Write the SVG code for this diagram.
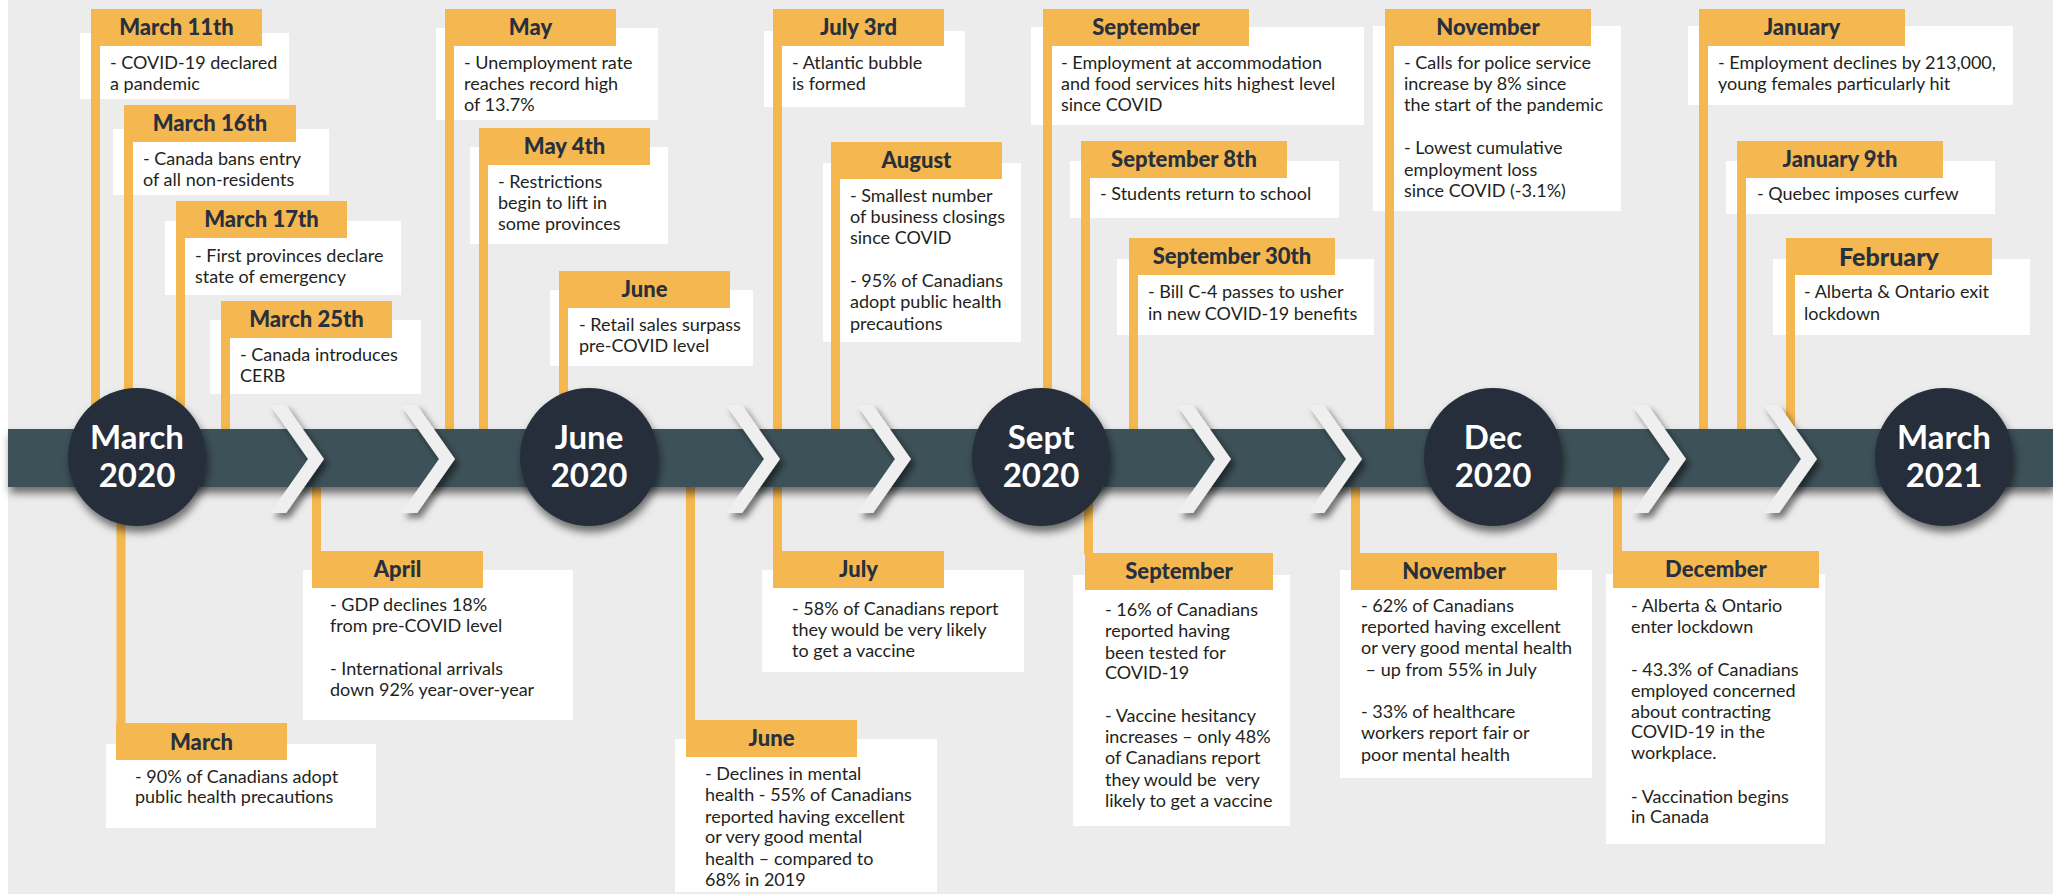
<svg xmlns="http://www.w3.org/2000/svg" width="2053" height="894" viewBox="0 0 2053 894">
<defs>
<filter id="sh" x="-20%" y="-20%" width="150%" height="160%">
<feDropShadow dx="2" dy="6" stdDeviation="4" flood-color="#000" flood-opacity="0.55"/>
</filter>
<filter id="shc" x="-30%" y="-20%" width="180%" height="150%">
<feDropShadow dx="4" dy="5" stdDeviation="3" flood-color="#000" flood-opacity="0.5"/>
</filter>
<style>
.wb{fill:#ffffff}
.hd{fill:#f5b74f}
.ttl{font-family:Lato,"Liberation Sans",sans-serif;font-weight:900;font-size:22px;fill:#27303c;text-anchor:middle}
.bd{font-family:Lato,"Liberation Sans",sans-serif;font-size:18px;fill:#231f20}
.cir{fill:#262f3b;filter:url(#sh)}
.ct{font-family:Lato,"Liberation Sans",sans-serif;font-weight:bold;font-size:33px;fill:#ffffff;text-anchor:middle}
.chev{fill:#efefef;filter:url(#shc)}
.con{stroke:#f5b74f;stroke-width:9;fill:none}
</style>
</defs>
<rect x="0" y="0" width="2053" height="894" fill="#ffffff"/>
<rect x="8" y="0" width="2045" height="894" fill="#ececec"/>

<!-- top nodes -->
<g id="n-mar11">
<rect class="wb" x="80" y="33" width="209" height="66"/>
<rect class="hd" x="91" y="9" width="171" height="37"/>
<text class="ttl" x="176.5" y="35">March 11th</text>
<text class="bd"><tspan x="110" y="69">- COVID-19 declared</tspan><tspan x="110" y="90">a pandemic</tspan></text>
</g>
<g id="n-mar16">
<rect class="wb" x="113" y="129" width="216" height="66"/>
<rect class="hd" x="124" y="105" width="172" height="37"/>
<text class="ttl" x="210" y="131">March 16th</text>
<text class="bd"><tspan x="143" y="165">- Canada bans entry</tspan><tspan x="143" y="186">of all non-residents</tspan></text>
</g>
<g id="n-mar17">
<rect class="wb" x="165" y="221" width="236" height="74"/>
<rect class="hd" x="176" y="201" width="171" height="37"/>
<text class="ttl" x="261.5" y="227">March 17th</text>
<text class="bd"><tspan x="195" y="262">- First provinces declare</tspan><tspan x="195" y="283">state of emergency</tspan></text>
</g>
<g id="n-mar25">
<rect class="wb" x="210" y="320" width="211" height="74"/>
<rect class="hd" x="221" y="301" width="171" height="37"/>
<text class="ttl" x="306.5" y="327">March 25th</text>
<text class="bd"><tspan x="240" y="361">- Canada introduces</tspan><tspan x="240" y="382">CERB</tspan></text>
</g>
<g id="n-may">
<rect class="wb" x="436" y="28" width="222" height="92"/>
<rect class="hd" x="445" y="9" width="171" height="37"/>
<text class="ttl" x="530.5" y="35">May</text>
<text class="bd"><tspan x="464" y="69">- Unemployment rate</tspan><tspan x="464" y="90">reaches record high</tspan><tspan x="464" y="111">of 13.7%</tspan></text>
</g>
<g id="n-may4">
<rect class="wb" x="470" y="147" width="198" height="97"/>
<rect class="hd" x="479" y="128" width="171" height="37"/>
<text class="ttl" x="564.5" y="154">May 4th</text>
<text class="bd"><tspan x="498" y="188">- Restrictions</tspan><tspan x="498" y="209">begin to lift in</tspan><tspan x="498" y="230">some provinces</tspan></text>
</g>
<g id="n-jun-top">
<rect class="wb" x="550" y="290" width="203" height="76"/>
<rect class="hd" x="559" y="271" width="171" height="37"/>
<text class="ttl" x="644.5" y="297">June</text>
<text class="bd"><tspan x="579" y="331">- Retail sales surpass</tspan><tspan x="579" y="352">pre-COVID level</tspan></text>
</g>
<g id="n-jul3">
<rect class="wb" x="764" y="31" width="201" height="76"/>
<rect class="hd" x="773" y="9" width="171" height="37"/>
<text class="ttl" x="858.5" y="35">July 3rd</text>
<text class="bd"><tspan x="792" y="69">- Atlantic bubble</tspan><tspan x="792" y="90">is formed</tspan></text>
</g>
<g id="n-aug">
<rect class="wb" x="823" y="163" width="198" height="179"/>
<rect class="hd" x="831" y="142" width="171" height="37"/>
<text class="ttl" x="916.5" y="168">August</text>
<text class="bd"><tspan x="850" y="202">- Smallest number</tspan><tspan x="850" y="223">of business closings</tspan><tspan x="850" y="244">since COVID</tspan><tspan x="850" y="287">- 95% of Canadians</tspan><tspan x="850" y="308">adopt public health</tspan><tspan x="850" y="330">precautions</tspan></text>
</g>
<g id="n-sep-top">
<rect class="wb" x="1031" y="27" width="333" height="98"/>
<rect class="hd" x="1043" y="9" width="206" height="37"/>
<text class="ttl" x="1146" y="35">September</text>
<text class="bd"><tspan x="1061" y="69">- Employment at accommodation</tspan><tspan x="1061" y="90">and food services hits highest level</tspan><tspan x="1061" y="111">since COVID</tspan></text>
</g>
<g id="n-sep8">
<rect class="wb" x="1070" y="161" width="269" height="57"/>
<rect class="hd" x="1081" y="141" width="206" height="37"/>
<text class="ttl" x="1184" y="167">September 8th</text>
<text class="bd"><tspan x="1100" y="200">- Students return to school</tspan></text>
</g>
<g id="n-sep30">
<rect class="wb" x="1117" y="259" width="257" height="76"/>
<rect class="hd" x="1129" y="238" width="206" height="37"/>
<text class="ttl" x="1232" y="264">September 30th</text>
<text class="bd"><tspan x="1148" y="298">- Bill C-4 passes to usher</tspan><tspan x="1148" y="320">in new COVID-19 benefits</tspan></text>
</g>
<g id="n-nov-top">
<rect class="wb" x="1373" y="26" width="248" height="185"/>
<rect class="hd" x="1385" y="9" width="206" height="37"/>
<text class="ttl" x="1488" y="35">November</text>
<text class="bd"><tspan x="1404" y="69">- Calls for police service</tspan><tspan x="1404" y="90">increase by 8% since</tspan><tspan x="1404" y="111">the start of the pandemic</tspan><tspan x="1404" y="154">- Lowest cumulative</tspan><tspan x="1404" y="176">employment loss</tspan><tspan x="1404" y="197">since COVID (-3.1%)</tspan></text>
</g>
<g id="n-jan">
<rect class="wb" x="1688" y="26" width="325" height="79"/>
<rect class="hd" x="1699" y="9" width="206" height="37"/>
<text class="ttl" x="1802" y="35">January</text>
<text class="bd"><tspan x="1718" y="69">- Employment declines by 213,000,</tspan><tspan x="1718" y="90">young females particularly hit</tspan></text>
</g>
<g id="n-jan9">
<rect class="wb" x="1726" y="161" width="269" height="53"/>
<rect class="hd" x="1737" y="141" width="206" height="37"/>
<text class="ttl" x="1840" y="167">January 9th</text>
<text class="bd"><tspan x="1757" y="200">- Quebec imposes curfew</tspan></text>
</g>
<g id="n-feb">
<rect class="wb" x="1773" y="259" width="257" height="76"/>
<rect class="hd" x="1786" y="238" width="206" height="37"/>
<text class="ttl" x="1889" y="266" style="font-size:25px">February</text>
<text class="bd"><tspan x="1804" y="298">- Alberta &amp; Ontario exit</tspan><tspan x="1804" y="320">lockdown</tspan></text>
</g>

<!-- bottom nodes -->
<g id="n-mar-bot">
<rect class="wb" x="106" y="744" width="270" height="84"/>
<rect class="hd" x="116" y="723" width="171" height="37"/>
<text class="ttl" x="201.5" y="750">March</text>
<text class="bd"><tspan x="135" y="783">- 90% of Canadians adopt</tspan><tspan x="135" y="803">public health precautions</tspan></text>
</g>
<g id="n-apr">
<rect class="wb" x="303" y="570" width="270" height="150"/>
<rect class="hd" x="312" y="551" width="171" height="37"/>
<text class="ttl" x="397.5" y="577">April</text>
<text class="bd"><tspan x="330" y="611">- GDP declines 18%</tspan><tspan x="330" y="632">from pre-COVID level</tspan><tspan x="330" y="675">- International arrivals</tspan><tspan x="330" y="696">down 92% year-over-year</tspan></text>
</g>
<g id="n-jun-bot">
<rect class="wb" x="675" y="739" width="262" height="153"/>
<rect class="hd" x="686" y="720" width="171" height="37"/>
<text class="ttl" x="771.5" y="746">June</text>
<text class="bd"><tspan x="705" y="780">- Declines in mental</tspan><tspan x="705" y="801">health - 55% of Canadians</tspan><tspan x="705" y="823">reported having excellent</tspan><tspan x="705" y="843">or very good mental</tspan><tspan x="705" y="865">health – compared to</tspan><tspan x="705" y="886">68% in 2019</tspan></text>
</g>
<g id="n-jul-bot">
<rect class="wb" x="762" y="570" width="262" height="102"/>
<rect class="hd" x="773" y="551" width="171" height="37"/>
<text class="ttl" x="858.5" y="577">July</text>
<text class="bd"><tspan x="792" y="615">- 58% of Canadians report</tspan><tspan x="792" y="636">they would be very likely</tspan><tspan x="792" y="657">to get a vaccine</tspan></text>
</g>
<g id="n-sep-bot">
<rect class="wb" x="1073" y="575" width="217" height="251"/>
<rect class="hd" x="1085" y="553" width="188" height="37"/>
<text class="ttl" x="1179" y="579">September</text>
<text class="bd" xml:space="preserve"><tspan x="1105" y="616">- 16% of Canadians</tspan><tspan x="1105" y="637">reported having</tspan><tspan x="1105" y="659">been tested for</tspan><tspan x="1105" y="679">COVID-19</tspan><tspan x="1105" y="722">- Vaccine hesitancy</tspan><tspan x="1105" y="743">increases – only 48%</tspan><tspan x="1105" y="764">of Canadians report</tspan><tspan x="1105" y="786">they would be  very</tspan><tspan x="1105" y="807">likely to get a vaccine</tspan></text>
</g>
<g id="n-nov-bot">
<rect class="wb" x="1340" y="570" width="252" height="208"/>
<rect class="hd" x="1351" y="553" width="206" height="37"/>
<text class="ttl" x="1454" y="579">November</text>
<text class="bd" xml:space="preserve"><tspan x="1361" y="612">- 62% of Canadians</tspan><tspan x="1361" y="633">reported having excellent</tspan><tspan x="1361" y="654">or very good mental health</tspan><tspan x="1361" y="676"> – up from 55% in July</tspan><tspan x="1361" y="718">- 33% of healthcare</tspan><tspan x="1361" y="739">workers report fair or</tspan><tspan x="1361" y="761">poor mental health</tspan></text>
</g>
<g id="n-dec-bot">
<rect class="wb" x="1606" y="574" width="219" height="270"/>
<rect class="hd" x="1613" y="551" width="206" height="37"/>
<text class="ttl" x="1716" y="577">December</text>
<text class="bd"><tspan x="1631" y="612">- Alberta &amp; Ontario</tspan><tspan x="1631" y="633">enter lockdown</tspan><tspan x="1631" y="676">- 43.3% of Canadians</tspan><tspan x="1631" y="697">employed concerned</tspan><tspan x="1631" y="718">about contracting</tspan><tspan x="1631" y="738">COVID-19 in the</tspan><tspan x="1631" y="759">workplace.</tspan><tspan x="1631" y="803">- Vaccination begins</tspan><tspan x="1631" y="823">in Canada</tspan></text>
</g>

<!-- connectors -->
<g id="connectors">
<line class="con" x1="95.5" y1="9" x2="95.5" y2="432"/>
<line class="con" x1="128.5" y1="105" x2="128.5" y2="432"/>
<line class="con" x1="180.5" y1="201" x2="180.5" y2="432"/>
<line class="con" x1="225.5" y1="301" x2="225.5" y2="432"/>
<line class="con" x1="449.5" y1="9" x2="449.5" y2="432"/>
<line class="con" x1="483.5" y1="128" x2="483.5" y2="432"/>
<line class="con" x1="563.5" y1="271" x2="563.5" y2="432"/>
<line class="con" x1="777.5" y1="9" x2="777.5" y2="432"/>
<line class="con" x1="835.5" y1="142" x2="835.5" y2="432"/>
<line class="con" x1="1047.5" y1="9" x2="1047.5" y2="432"/>
<line class="con" x1="1085.5" y1="141" x2="1085.5" y2="432"/>
<line class="con" x1="1133.5" y1="238" x2="1133.5" y2="432"/>
<line class="con" x1="1389.5" y1="9" x2="1389.5" y2="432"/>
<line class="con" x1="1703.5" y1="9" x2="1703.5" y2="432"/>
<line class="con" x1="1741.5" y1="141" x2="1741.5" y2="432"/>
<line class="con" x1="1790.5" y1="238" x2="1790.5" y2="432"/>
<line class="con" x1="121" y1="470" x2="121" y2="724"/>
<line class="con" x1="316.5" y1="484" x2="316.5" y2="552"/>
<line class="con" x1="690.5" y1="484" x2="690.5" y2="721"/>
<line class="con" x1="777.5" y1="484" x2="777.5" y2="552"/>
<line class="con" x1="1088.5" y1="484" x2="1088.5" y2="554"/>
<line class="con" x1="1355.5" y1="484" x2="1355.5" y2="554"/>
<line class="con" x1="1617.5" y1="484" x2="1617.5" y2="552"/>
</g>

<!-- timeline -->
<g id="timeline">
<rect x="8" y="429" width="2045" height="58" fill="#3c5158" filter="url(#sh)"/>
<polygon class="chev" points="270,405 286,405 324,459 286,513 270,513 308,459"/>
<polygon class="chev" points="401,405 417,405 455,459 417,513 401,513 439,459"/>
<polygon class="chev" points="726,405 742,405 780,459 742,513 726,513 764,459"/>
<polygon class="chev" points="857,405 873,405 911,459 873,513 857,513 895,459"/>
<polygon class="chev" points="1177,405 1193,405 1231,459 1193,513 1177,513 1215,459"/>
<polygon class="chev" points="1308,405 1324,405 1362,459 1324,513 1308,513 1346,459"/>
<polygon class="chev" points="1632,405 1648,405 1686,459 1648,513 1632,513 1670,459"/>
<polygon class="chev" points="1763,405 1779,405 1817,459 1779,513 1763,513 1801,459"/>
</g>

<g id="c-mar2020">
<circle class="cir" cx="137" cy="457" r="69"/>
<text class="ct" x="137" y="449">March</text>
<text class="ct" x="137" y="487">2020</text>
</g>
<g id="c-jun2020">
<circle class="cir" cx="589" cy="457" r="69"/>
<text class="ct" x="589" y="449">June</text>
<text class="ct" x="589" y="487">2020</text>
</g>
<g id="c-sep2020">
<circle class="cir" cx="1041" cy="457" r="69"/>
<text class="ct" x="1041" y="449">Sept</text>
<text class="ct" x="1041" y="487">2020</text>
</g>
<g id="c-dec2020">
<circle class="cir" cx="1493" cy="457" r="69"/>
<text class="ct" x="1493" y="449">Dec</text>
<text class="ct" x="1493" y="487">2020</text>
</g>
<g id="c-mar2021">
<circle class="cir" cx="1944" cy="457" r="69"/>
<text class="ct" x="1944" y="449">March</text>
<text class="ct" x="1944" y="487">2021</text>
</g>
</svg>
